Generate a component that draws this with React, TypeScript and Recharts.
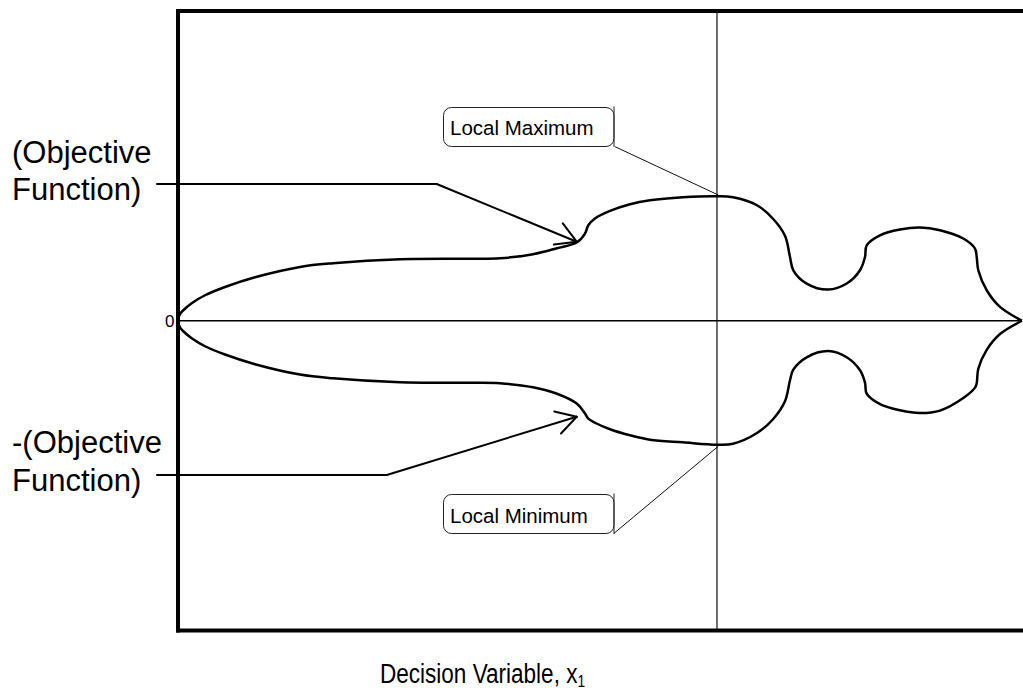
import React from "react";
import { ComposedChart, Line, XAxis, YAxis, ReferenceLine } from "recharts";

// curve: x in % of the plot width, y in % of half height
const X_VALUES = [
  0, 0.024, 0.118, 0.296, 0.628, 1.623, 3.199, 5.569, 9.123, 14.455, 18.365,
  26.303, 34.953, 38.152, 42.062, 44.905, 47.275, 48.223, 48.614, 49.408,
  51.185, 53.555, 55.924, 59.834, 63.863, 65.758, 68.602, 70.498, 71.919,
  72.512, 72.903, 74.491, 77.05, 79.23, 80.806, 81.398, 81.6, 83.175, 85.545,
  87.915, 90.284, 93.045, 94.431, 94.633, 94.822, 95.818, 97.393, 100,
];
const UPPER = [
  0, 0.71, 1.49, 2.39, 3.39, 5.65, 8.23, 10.91, 14.04, 17.37, 18.56, 19.85,
  20.02, 20.18, 21.47, 23.41, 25.34, 28.15, 30.83, 32.99, 35.45, 37.61, 38.9,
  39.87, 40.19, 39.87, 37.29, 32.93, 27.44, 20.6, 16.3, 12.01, 10.07, 12.01,
  16.3, 20.6, 24.37, 27.6, 29.44, 30.09, 29.22, 26.54, 23.31, 20.6, 16.3, 9.85,
  4.46, 0,
];
const LOWER = [
  0, -0.71, -1.49, -2.39, -3.39, -5.65, -8.23, -10.91, -14.04, -17.37, -18.56,
  -19.85, -20.02, -20.18, -21.47, -23.57, -26.8, -29.96, -31.57, -32.93,
  -35.03, -36.97, -38.4, -39.25, -40.0, -39.7, -36.25, -31.8, -26.0, -19.2,
  -15.8, -11.8, -9.8, -11.8, -16.0, -20.0, -23.5, -26.9, -28.9, -29.8, -29.0,
  -24.95, -21.6, -20.2, -15.5, -9.4, -4.3, 0,
];

const X_DOMAIN = [0, 100];
const Y_DOMAIN = [-100, 100];
const EXTREMUM_X = 63.86;

// annotation geometry, in data units
const UPPER_LEADER = [
  [{ x: -2.49, y: 44.15 }, { x: 30.65, y: 44.15 }],
  [{ x: 30.65, y: 44.15 }, { x: 47.24, y: 25.52 }],
  [{ x: 47.24, y: 25.52 }, { x: 45.59, y: 31.43 }],
  [{ x: 47.24, y: 25.52 }, { x: 44.54, y: 24.58 }],
];
const LOWER_LEADER = [
  [{ x: -2.49, y: -49.8 }, { x: 24.73, y: -49.8 }],
  [{ x: 24.73, y: -49.8 }, { x: 47.24, y: -30.98 }],
  [{ x: 47.24, y: -30.98 }, { x: 45.38, y: -36.4 }],
  [{ x: 47.24, y: -30.98 }, { x: 44.58, y: -29.3 }],
];
const CALLOUTS = [
  [{ x: 51.78, y: 56.19 }, { x: 64.02, y: 40.6 }],
  [{ x: 51.66, y: -68.62 }, { x: 64.02, y: -40.5 }],
];

const FONT = "'Liberation Sans', Arial, Helvetica, sans-serif";

// centripetal catmull-rom, same maths as d3's curveCatmullRom (alpha 0.5)
function smoothCurve(context: any) {
  let pts: number[][] = [];
  return {
    areaStart() {},
    areaEnd() {},
    lineStart() {
      pts = [];
    },
    point(x: number, y: number) {
      pts.push([+x, +y]);
    },
    lineEnd() {
      const n = pts.length;
      if (!n) return;
      context.moveTo(pts[0][0], pts[0][1]);
      for (let i = 0; i < n - 1; i++) {
        const p0 = pts[Math.max(i - 1, 0)];
        const p1 = pts[i];
        const p2 = pts[i + 1];
        const p3 = pts[Math.min(i + 2, n - 1)];
        const l01 = Math.hypot(p1[0] - p0[0], p1[1] - p0[1]);
        const l12 = Math.hypot(p2[0] - p1[0], p2[1] - p1[1]);
        const l23 = Math.hypot(p3[0] - p2[0], p3[1] - p2[1]);
        const a01 = Math.sqrt(l01), a12 = Math.sqrt(l12), a23 = Math.sqrt(l23);
        let c1 = p1, c2 = p2;
        if (a01 > 1e-6) {
          const a = 2 * l01 + 3 * a01 * a12 + l12;
          const m = 3 * a01 * (a01 + a12);
          c1 = [0, 1].map((k) => (p1[k] * a - p0[k] * l12 + p2[k] * l01) / m);
        }
        if (a23 > 1e-6) {
          const b = 2 * l23 + 3 * a23 * a12 + l12;
          const m = 3 * a23 * (a23 + a12);
          c2 = [0, 1].map((k) => (p2[k] * b + p1[k] * l23 - p3[k] * l12) / m);
        }
        context.bezierCurveTo(c1[0], c1[1], c2[0], c2[1], p2[0], p2[1]);
      }
    },
  };
}

export default function App() {
  const data = X_VALUES.map((x, i) => ({ x, upper: UPPER[i], lower: LOWER[i] }));

  return (
    <div style={{ position: "absolute", left: 0, top: 0, width: 1023, height: 690, background: "#fff", overflow: "hidden" }}>
      <ComposedChart
        width={1023}
        height={690}
        data={data}
        margin={{ top: 11, right: 1, bottom: 59.5, left: 178 }}
      >
        <XAxis type="number" dataKey="x" domain={X_DOMAIN} hide />
        <YAxis type="number" domain={Y_DOMAIN} hide />

        {/* plot frame: left, top, bottom (right edge falls outside the picture) */}
        <ReferenceLine x={0} ifOverflow="visible" stroke="#000" strokeWidth={4} strokeLinecap="square" />
        <ReferenceLine y={100} ifOverflow="visible" stroke="#000" strokeWidth={4} strokeLinecap="square" />
        <ReferenceLine y={-100} ifOverflow="visible" stroke="#000" strokeWidth={4} strokeLinecap="square" />

        <ReferenceLine y={0} stroke="#000" strokeWidth={1.5} />
        <ReferenceLine x={EXTREMUM_X} stroke="#111" strokeWidth={1.2} />
        {[...UPPER_LEADER, ...LOWER_LEADER].map((seg, i) => (
          <ReferenceLine key={"l" + i} segment={seg} ifOverflow="visible" stroke="#000" strokeWidth={2} strokeLinecap="round" />
        ))}
        {CALLOUTS.map((seg, i) => (
          <ReferenceLine key={"c" + i} segment={seg} ifOverflow="visible" stroke="#111" strokeWidth={1} />
        ))}
        <Line dataKey="upper" type={smoothCurve as any} stroke="#000" strokeWidth={2.5} dot={false} activeDot={false} isAnimationActive={false} />
        <Line dataKey="lower" type={smoothCurve as any} stroke="#000" strokeWidth={2.5} dot={false} activeDot={false} isAnimationActive={false} />
      </ComposedChart>

      <svg width={1023} height={690} style={{ position: "absolute", left: 0, top: 0, pointerEvents: "none" }} fontFamily={FONT}>
        <text x={174.5} y={327} fontSize={17} textAnchor="end" fill="#000">0</text>

        <text x={12} y={163} fontSize={31} fill="#000">(Objective</text>
        <text x={12} y={199.5} fontSize={31} fill="#000">Function)</text>
        <text x={12} y={453} fontSize={31} fill="#000">-(Objective</text>
        <text x={12} y={491} fontSize={31} fill="#000">Function)</text>

        <rect x={443.5} y={107.5} width={170.5} height={39} rx={8} fill="#fff" stroke="#222" strokeWidth={1} />
        <line x1={614} y1={106.5} x2={614} y2={147} stroke="#222" strokeWidth={1} />
        <text x={450} y={135} fontSize={20.5} fill="#000">Local Maximum</text>

        <rect x={443.5} y={494.5} width={170.5} height={39} rx={8} fill="#fff" stroke="#222" strokeWidth={1} />
        <line x1={614} y1={493.5} x2={614} y2={534} stroke="#222" strokeWidth={1} />
        <text x={450} y={522.5} fontSize={20.5} fill="#000">Local Minimum</text>

        <text transform="translate(380,683) scale(0.805,1)" fontSize={28} fill="#000">
          Decision Variable, x<tspan dy={4} fontSize={17}>1</tspan>
        </text>
      </svg>
    </div>
  );
}
